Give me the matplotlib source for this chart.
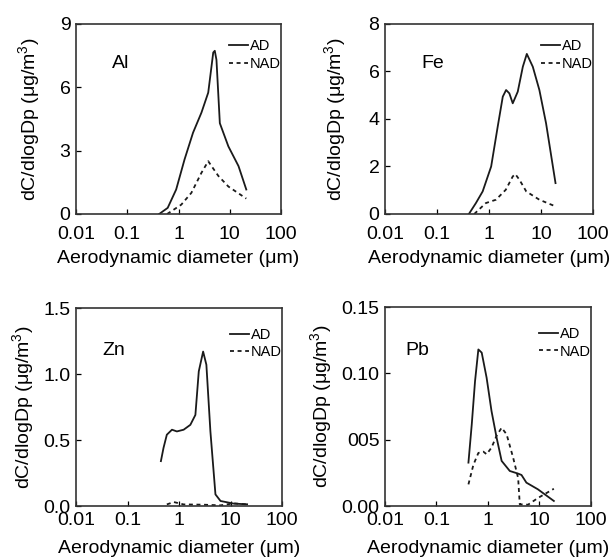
import numpy as np
import matplotlib
matplotlib.use('Agg')
import matplotlib.pyplot as plt
from matplotlib.ticker import FixedLocator, FixedFormatter

plt.rcParams['font.family'] = ['Liberation Sans', 'DejaVu Sans']
plt.rcParams['font.size'] = 14
plt.rcParams['mathtext.fontset'] = 'custom'
plt.rcParams['mathtext.rm'] = 'Liberation Sans'

# Al
al_ad_x = [0.42, 0.615, 0.9, 1.31, 1.92, 2.8, 3.8, 4.76, 5.1, 5.5, 6.4, 9.4, 14.8, 21]
al_ad_y = [0.0, 0.29, 1.16, 2.58, 3.85, 4.8, 5.75, 7.65, 7.73, 7.3, 4.3, 3.2, 2.27, 1.16]
al_nad_x = [0.6, 1.13, 1.78, 2.8, 3.8, 4.4, 6.0, 9.4, 21]
al_nad_y = [0.0, 0.44, 1.0, 1.95, 2.5, 2.27, 1.8, 1.3, 0.73]

# Fe
fe_ad_x = [0.41, 0.56, 0.755, 1.1, 1.47, 1.84, 2.13, 2.46, 2.86, 3.57, 4.47, 5.33, 6.95, 9.3, 12.5, 19]
fe_ad_y = [0.0, 0.46, 0.95, 2.0, 3.68, 4.94, 5.22, 5.08, 4.66, 5.15, 6.2, 6.74, 6.2, 5.22, 3.82, 1.3]
fe_nad_x = [0.52, 0.87, 1.36, 2.1, 2.86, 3.2, 3.85, 5.2, 9.3, 19]
fe_nad_y = [0.0, 0.46, 0.6, 1.02, 1.58, 1.68, 1.44, 0.95, 0.6, 0.32]

# Zn
zn_ad_x = [0.445, 0.5, 0.58, 0.73, 0.91, 1.23, 1.66, 2.08, 2.42, 2.94, 3.4, 4.07, 5.1, 6.4, 11.6, 21]
zn_ad_y = [0.34, 0.44, 0.54, 0.578, 0.565, 0.578, 0.615, 0.69, 1.02, 1.17, 1.07, 0.565, 0.088, 0.038, 0.018, 0.013]
zn_nad_x = [0.58, 0.79, 1.23, 3.0, 6.4, 11.6, 21]
zn_nad_y = [0.012, 0.03, 0.012, 0.01, 0.005, 0.02, 0.012]

# Pb
pb_ad_x = [0.417, 0.484, 0.56, 0.65, 0.755, 0.94, 1.17, 1.47, 1.84, 2.65, 3.85, 4.47, 5.57, 9.3, 19]
pb_ad_y = [0.0327, 0.0616, 0.094, 0.118, 0.1156, 0.0967, 0.0716, 0.0515, 0.034, 0.0264, 0.0244, 0.0234, 0.0176, 0.0126, 0.0038]
pb_nad_x = [0.417, 0.52, 0.65, 0.81, 0.94, 1.17, 1.47, 1.84, 2.3, 3.08, 3.85, 4.14, 6.0, 9.3, 19]
pb_nad_y = [0.0163, 0.031, 0.040, 0.041, 0.039, 0.044, 0.053, 0.059, 0.054, 0.0364, 0.021, 0.0013, 0.001, 0.006, 0.013]

x_ticks = [0.01, 0.1, 1, 10, 100]
x_labels = ['0.01', '0.1', '1', '10', '100']

panels = [
    ('Al', al_ad_x, al_ad_y, al_nad_x, al_nad_y, 9, [0, 3, 6, 9], ['0', '3', '6', '9']),
    ('Fe', fe_ad_x, fe_ad_y, fe_nad_x, fe_nad_y, 8, [0, 2, 4, 6, 8], ['0', '2', '4', '6', '8']),
    ('Zn', zn_ad_x, zn_ad_y, zn_nad_x, zn_nad_y, 1.5, [0, 0.5, 1.0, 1.5], ['0.0', '0.5', '1.0', '1.5']),
    ('Pb', pb_ad_x, pb_ad_y, pb_nad_x, pb_nad_y, 0.15, [0, 0.05, 0.10, 0.15], ['0.00', '005', '0.10', '0.15']),
]

# axes rect, x-tick pad, ylabel x, xlabel y, name position, legend top
layout = [
    ([0.1234, 0.6172, 0.3328, 0.3399], 9.0, -0.161, -0.19, (0.176, 0.768), 0.92),
    ([0.6250, 0.6172, 0.3377, 0.3399], 9.0, -0.173, -0.19, (0.173, 0.768), 0.92),
    ([0.1234, 0.0948, 0.3344, 0.3542], 4.5, -0.19, -0.17, (0.126, 0.763), 0.90),
    ([0.6250, 0.0948, 0.3344, 0.3560], 4.5, -0.243, -0.17, (0.10, 0.76), 0.90),
]

fig = plt.figure(figsize=(6.16, 5.59), dpi=100)

for (name, adx, ady, nadx, nady, ymax, yt, ytl), (rect, xpad, ylx, xly, npos, legy) in zip(panels, layout):
    ax = fig.add_axes(rect)
    ax.plot(adx, ady, color='#1a1a1a', lw=1.3, label='AD')
    ax.plot(nadx, nady, color='#1a1a1a', lw=1.3, ls=(0, (2.2, 2)), label='NAD')
    ax.set_xscale('log')
    ax.set_xlim(0.01, 100)
    ax.set_ylim(0, ymax)
    ax.xaxis.set_major_locator(FixedLocator(x_ticks))
    ax.xaxis.set_major_formatter(FixedFormatter(x_labels))
    ax.xaxis.set_minor_locator(FixedLocator([]))
    ax.yaxis.set_major_locator(FixedLocator(yt))
    ax.yaxis.set_major_formatter(FixedFormatter(ytl))
    ax.tick_params(direction='in', length=3.5, width=0.9)
    ax.tick_params(axis='x', pad=xpad)
    ax.tick_params(axis='y', pad=4)
    for s in ax.spines.values():
        s.set_linewidth(1.2)
        s.set_color('#333333')
    ax.set_xlabel('Aerodynamic diameter (\u03bcm)')
    ax.xaxis.set_label_coords(0.5, xly)
    ax.set_ylabel('dC/dlogDp (\u03bcg/m$^3$)')
    ax.yaxis.set_label_coords(ylx, 0.5)
    ax.text(npos[0], npos[1], name, transform=ax.transAxes, fontsize=14, va='baseline')
    ax.legend(loc='upper right', bbox_to_anchor=(1.0, legy), frameon=False,
              fontsize=10.5, handlelength=1.3, handletextpad=0.15, labelspacing=0.25,
              borderpad=0, borderaxespad=0)

fig.savefig('out.png', dpi=100)
